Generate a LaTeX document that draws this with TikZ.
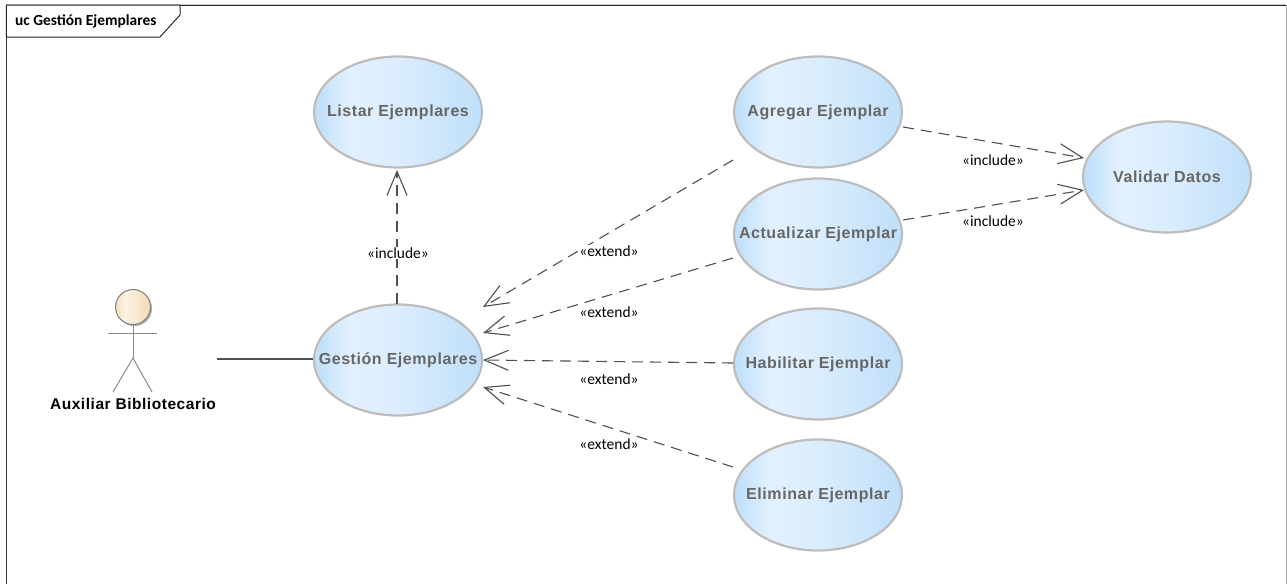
\documentclass[tikz,border=0pt]{standalone}
\usepackage{fontspec}
\setmainfont{Liberation Sans}
\newfontfamily\carl{Carlito}
\newfontfamily\ucfont[LetterSpace=3.5]{Liberation Sans}
\newfontfamily\actfont[LetterSpace=3.5]{Liberation Sans}
\usetikzlibrary{arrows.meta,shapes.geometric,shadows}
\pgfdeclarehorizontalshading{ucshade}{100bp}{rgb(0bp)=(0.74,0.87,0.98); rgb(25bp)=(0.74,0.87,0.98); rgb(36bp)=(0.89,0.945,0.995); rgb(52bp)=(0.85,0.925,0.99); rgb(75bp)=(0.75,0.875,0.98); rgb(100bp)=(0.75,0.875,0.98)}
\pgfdeclarehorizontalshading{headshade}{100bp}{rgb(0bp)=(0.96,0.88,0.76); rgb(25bp)=(0.96,0.88,0.76); rgb(40bp)=(0.99,0.95,0.89); rgb(75bp)=(0.95,0.86,0.72); rgb(100bp)=(0.95,0.86,0.72)}
\definecolor{linegray}{HTML}{505050}
\definecolor{txtgray}{HTML}{666666}
\definecolor{ringgray}{HTML}{BDBDBD}
\newcommand{\uctext}[1]{\makebox[0pt][c]{\raisebox{-2pt}{#1}}}
\tikzset{
  x=1pt,y=-1pt,
  usecase/.style={ellipse,draw=ringgray,line width=2.2pt,shading=ucshade,minimum width=168pt,minimum height=111pt,inner sep=0pt,text=txtgray,font=\ucfont\fontsize{16}{18}\selectfont\bfseries},
  depend/.style={draw=linegray,line width=1.1pt,dash pattern=on 11pt off 7pt,-{Straight Barb[length=24pt,width=20pt,line width=1.1pt]}},
  tagtext/.style={font=\carl\fontsize{15.5}{17}\selectfont,text=black,inner sep=1pt,fill=white},
  limb/.style={draw=gray!90,line width=1pt},
  flabel/.style={inner sep=0pt}
}
\begin{document}
\begin{tikzpicture}
\useasboundingbox (0,0) rectangle (1287,584);
\fill[white] (0,0) rectangle (1287,584);
\draw[gray!40,line width=1pt] (6,4) -- (1286,4);
\draw[gray!70,line width=1pt] (1286,5) -- (1286,584);
\draw[black!85,line width=1pt] (6,5.2) -- (1286,5.2);
\draw[black!80,line width=1.2pt] (6.4,5) -- (6.4,584);
\draw[black!85,line width=1pt,fill=white] (6.4,5.2) -- (180,5.2) -- (180,15) -- (160,37) -- (6.4,37) -- cycle;
\node[flabel,anchor=west,font=\carl\bfseries\fontsize{15.4}{17}\selectfont] (title) at (15,21) {uc Gestión Ejemplares};

\node[usecase] (listar) at (398,112) {\uctext{Listar Ejemplares}};
\node[usecase] (gestion) at (398,360) {\uctext{Gestión Ejemplares}};
\node[usecase] (agregar) at (818,112) {\uctext{Agregar Ejemplar}};
\node[usecase] (actualizar) at (818,234) {\uctext{Actualizar Ejemplar}};
\node[usecase] (habilitar) at (818,364) {\uctext{Habilitar Ejemplar}};
\node[usecase] (eliminar) at (818,495) {\uctext{Eliminar Ejemplar}};
\node[usecase] (validar) at (1167,177) {\uctext{Validar Datos}};

% actor
\fill[gray!60] (134.5,308.5) circle (17.6);
\node[circle,draw=gray,line width=1pt,shading=headshade,minimum size=35pt,inner sep=0pt] (head) at (133,307) {};
\coordinate (hip) at (133,358);
\coordinate (armL) at (108,333);
\coordinate (armR) at (157,333);
\coordinate (legL) at (113,392);
\coordinate (legR) at (152,392);
\draw[limb] (head.south) -- (hip);
\draw[limb] (armL) -- (armR);
\draw[limb] (legL) -- (hip) -- (legR);
\node[flabel,font=\actfont\fontsize{15.5}{17}\selectfont\bfseries] (actor) at (133,404) {Auxiliar Bibliotecario};

% ends
\coordinate (aStart) at (217,359);
\coordinate (lStart) at (397,304);
\coordinate (lEnd) at (397,170);
\coordinate (e1s) at (733,160); \coordinate (e1t) at (483,307);
\coordinate (e2s) at (733,258); \coordinate (e2t) at (483,333);
\coordinate (e3s) at (733,363); \coordinate (e3t) at (483,360);
\coordinate (e4s) at (733,467); \coordinate (e4t) at (483,387);
\coordinate (i1s) at (903,127); \coordinate (i1t) at (1084,158);
\coordinate (i2s) at (903,220); \coordinate (i2t) at (1084,190);

\draw[draw=linegray,line width=1.2pt] (aStart) -- (aStart -| gestion.west);
\draw[depend] (lStart) -- (lEnd);
\draw[depend] (e1s) -- (e1t);
\draw[depend] (e2s) -- (e2t);
\draw[depend] (e3s) -- (e3t);
\draw[depend] (e4s) -- (e4t);
\draw[depend] (i1s) -- (i1t);
\draw[depend] (i2s) -- (i2t);

\node[tagtext] (t0) at (398,253) {«include»};
\node[tagtext] (t1) at (609,251) {«extend»};
\node[tagtext] (t2) at (609,312) {«extend»};
\node[tagtext] (t3) at (609,379) {«extend»};
\node[tagtext] (t4) at (609,444) {«extend»};
\node[tagtext] (t5) at (993,160) {«include»};
\node[tagtext] (t6) at (993,221) {«include»};
\end{tikzpicture}
\end{document}
